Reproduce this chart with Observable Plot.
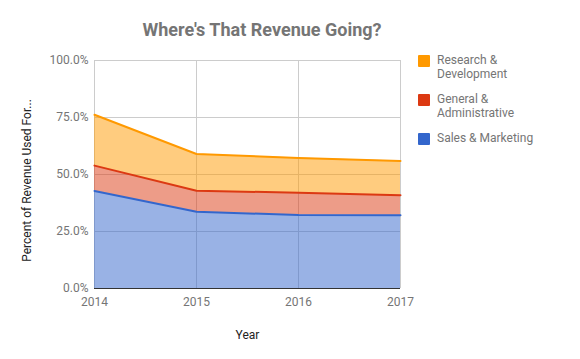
<!DOCTYPE html>
<html><head><meta charset="utf-8">
<script src="https://cdn.jsdelivr.net/npm/d3@7"></script>
<script src="https://cdn.jsdelivr.net/npm/@observablehq/plot@0.6"></script>
<style>
body{margin:0;background:#fff;font-family:Roboto,sans-serif;}
#wrap{position:relative;width:580px;height:359px;overflow:hidden;}
#title{position:absolute;left:0;width:524px;top:19px;text-align:center;font:bold 18px Roboto,sans-serif;color:#757575;}
#legend{position:absolute;left:418px;top:53px;font:12px Roboto,sans-serif;color:#757575;}
.item{position:absolute;left:0;width:160px;}
.sw{position:absolute;left:0;top:2px;width:12px;height:12px;border-radius:1px;}
.lab{position:absolute;left:19px;top:0;line-height:14px;white-space:nowrap;}
#chart{position:absolute;left:0;top:0;}
</style></head>
<body><div id="wrap"><div id="chart"></div><div id="title"></div><div id="legend"></div></div>
<script>
const years = [2014, 2015, 2016, 2017];
const salesMarketing = [0.428, 0.337, 0.322, 0.321];
const generalAdmin = [0.111, 0.092, 0.098, 0.088];
const researchDev = [0.223, 0.161, 0.152, 0.150];
const seriesNames = ["Sales & Marketing", "General & Administrative", "Research & Development"];
const seriesColors = ["#3366cc", "#dc3912", "#ff9900"];
const legendLabels = [["Research &", "Development"], ["General &", "Administrative"], ["Sales & Marketing"]];
const yTicks = [0, 0.25, 0.5, 0.75, 1];
const titleText = "Where's That Revenue Going?";
const yLabel = "Percent of Revenue Used For...";
const xLabel = "Year";

const seriesValues = [salesMarketing, generalAdmin, researchDev];
const data = [];
seriesNames.forEach((s, i) => years.forEach((y, j) => data.push({year: y, series: s, value: seriesValues[i][j]})));

const color = {domain: seriesNames, range: seriesColors};
const plot = Plot.plot({
  width: 580, height: 359,
  marginLeft: 94, marginRight: 180, marginTop: 60, marginBottom: 71,
  style: {fontFamily: "Roboto, sans-serif", fontSize: "12px", color: "#757575", background: "white"},
  x: {domain: [2014, 2017], ticks: years, tickFormat: "d", label: null},
  y: {domain: [0, 1], ticks: yTicks, tickFormat: ".1%", label: null},
  color,
  marks: [
    Plot.gridY(yTicks, {stroke: "#cccccc", strokeOpacity: 1}),
    Plot.gridX(years, {stroke: "#cccccc", strokeOpacity: 1}),
    Plot.areaY(data, Plot.stackY({x: "year", y: "value", z: "series", fill: "series", fillOpacity: 0.5, order: seriesNames})),
    Plot.lineY(data, Plot.stackY2({x: "year", y: "value", z: "series", stroke: "series", strokeWidth: 2, order: seriesNames})),
    Plot.ruleY([0], {stroke: "#333333", strokeWidth: 1}),
    Plot.axisY({ticks: yTicks, tickFormat: ".1%", tickSize: 0, tickPadding: 6, label: null, fill: "#757575"}),
    Plot.axisX({ticks: years, tickFormat: "d", tickSize: 0, tickPadding: 9, label: null, fill: "#757575"}),
    Plot.text([yLabel], {frameAnchor: "left", dx: -67, dy: 6, rotate: -90, textAnchor: "middle", fill: "#222", fontSize: 12}),
    Plot.text([xLabel], {frameAnchor: "bottom", dy: 50, fill: "#222", fontSize: 12})
  ]
});
document.getElementById("chart").appendChild(plot);
document.getElementById("title").textContent = titleText;

const legend = document.getElementById("legend");
const tops = [0, 39, 78];
[2, 1, 0].forEach((si, k) => {
  const it = document.createElement("div");
  it.className = "item"; it.style.top = tops[k] + "px";
  const sw = document.createElement("div"); sw.className = "sw"; sw.style.background = seriesColors[si];
  const lb = document.createElement("div"); lb.className = "lab";
  lb.innerHTML = legendLabels[k].map(t => t.replace(/&/g, "&amp;")).join("<br>");
  it.appendChild(sw); it.appendChild(lb); legend.appendChild(it);
});
</script></body></html>
